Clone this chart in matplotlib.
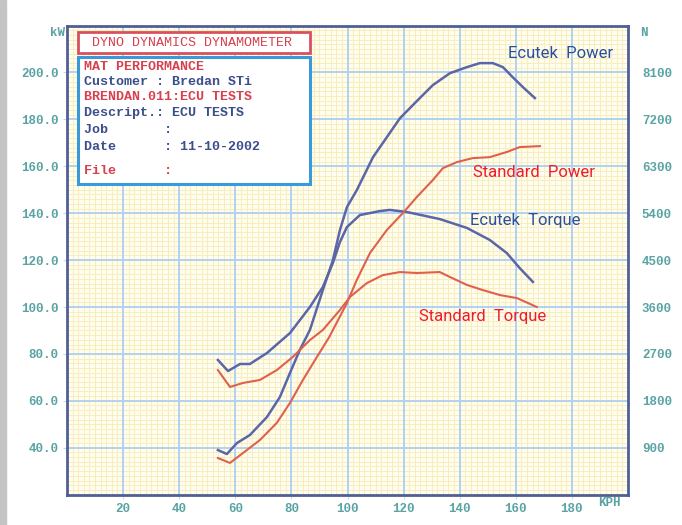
import numpy as np
import matplotlib.pyplot as plt
from matplotlib.patches import Rectangle

ecu_pow_x = [53.8, 57.0, 60.6, 65.2, 71.3, 75.9, 79.5, 83.0, 86.6, 91.2, 94.8, 97.3,
             99.8, 103.3, 109.1, 118.7, 124.7, 130.4, 136.5, 142.6, 147.2, 151.8,
             155.4, 158.9, 162.5, 166.8]
ecu_pow_y = [39.0, 37.3, 42.0, 45.4, 53.1, 61.6, 71.9, 81.7, 90.2, 107.2, 120.0, 132.8,
             142.6, 149.8, 163.9, 180.5, 187.8, 194.6, 199.7, 202.3, 204.0, 204.0,
             202.3, 198.0, 193.8, 189.1]

ecu_trq_x = [53.8, 57.4, 61.7, 65.2, 71.3, 79.5, 86.6, 91.2, 94.8, 97.3, 99.8, 104.4,
             111.5, 115.1, 121.2, 132.9, 142.6, 150.7, 156.8, 161.4, 166.1]
ecu_trq_y = [77.4, 72.7, 75.7, 75.7, 80.4, 88.9, 100.0, 108.5, 118.8, 127.7, 134.1, 139.2,
             140.9, 141.4, 140.5, 137.5, 133.7, 128.6, 123.0, 116.6, 110.7]

std_pow_x = [53.8, 58.1, 62.7, 68.8, 74.8, 79.5, 84.1, 89.1, 93.5, 99.8, 103.3, 108.0,
             114.0, 119.7, 124.7, 130.4, 134.0, 139.0, 144.7, 150.7, 156.8, 161.4, 168.6]
std_pow_y = [35.6, 33.5, 37.7, 43.3, 50.6, 59.1, 68.9, 78.7, 87.2, 101.7, 111.5, 123.0,
             132.8, 140.0, 146.9, 154.1, 159.2, 161.8, 163.5, 163.9, 166.1, 168.2, 168.6]

std_trq_x = [53.8, 58.1, 62.7, 68.8, 74.8, 80.5, 86.6, 91.2, 97.3, 100.9, 106.9, 112.6,
             118.7, 124.7, 132.9, 136.5, 142.6, 148.3, 154.3, 160.4, 167.5]
std_trq_y = [73.1, 65.9, 67.6, 68.9, 73.1, 78.7, 85.9, 90.2, 98.7, 104.3, 110.2, 113.6,
             114.9, 114.5, 114.9, 112.8, 109.4, 107.2, 105.1, 103.8, 100.0]

x_ticks = [20, 40, 60, 80, 100, 120, 140, 160, 180]
kw_ticks = [40, 60, 80, 100, 120, 140, 160, 180, 200]
n_ticks = [900, 1800, 2700, 3600, 4500, 5400, 6300, 7200, 8100]

info_lines = [
    ("MAT PERFORMANCE", "red"),
    ("Customer : Bredan STi", "blue"),
    ("BRENDAN.011:ECU TESTS", "red"),
    ("Descript.: ECU TESTS", "blue"),
    ("Job       :", "blue"),
    ("Date      : 11-10-2002", "blue"),
]

blue_line = "#5a66a8"
red_line = "#e0604a"
tick_col = "#5aa3a3"
txt_red = "#d8404e"
txt_blue = "#3c4e8c"
mono = "Liberation Mono"
narrow = ["Roboto", "DejaVu Sans"]

fig = plt.figure(figsize=(6.82, 5.25), dpi=100)
fig.patch.set_facecolor("white")
# faixa cinzenta da digitalização à esquerda
fig.patches.append(Rectangle((0, 0), 6 / 682, 1, transform=fig.transFigure,
                             color="#c4c4c4", zorder=0))

ax = fig.add_axes([67 / 682, 1 - 494.6 / 525, 561 / 682, 469 / 525])
ax.set_xlim(0, 200)
ax.set_ylim(20, 220)
ax.set_facecolor("#fffdf0")

# grelha: menor amarela, maior azul
for v in np.arange(2, 200, 2):
    ax.axvline(v, color="#f8eebc", lw=0.7, zorder=0)
for v in np.arange(22, 220, 2):
    ax.axhline(v, color="#f8eebc", lw=0.7, zorder=0)
for v in x_ticks:
    ax.axvline(v, color="#b4d2ee", lw=1.4, zorder=1)
for v in kw_ticks:
    ax.axhline(v, color="#b4d2ee", lw=1.4, zorder=1)

ax.plot(ecu_pow_x, ecu_pow_y, color=blue_line, lw=1.8, zorder=3)
ax.plot(ecu_trq_x, ecu_trq_y, color=blue_line, lw=1.8, zorder=3)
ax.plot(std_pow_x, std_pow_y, color=red_line, lw=1.5, zorder=3)
ax.plot(std_trq_x, std_trq_y, color=red_line, lw=1.5, zorder=3)

for s in ax.spines.values():
    s.set_color("#4f5f96")
    s.set_linewidth(2)

ax.set_xticks(x_ticks)
ax.set_xticklabels([str(v) for v in x_ticks], family=mono, fontsize=9,
                   color=tick_col, fontweight="bold")
ax.set_yticks(kw_ticks)
ax.set_yticklabels([f"{v:.1f}" for v in kw_ticks], family=mono, fontsize=9,
                   color=tick_col, fontweight="bold")
ax.tick_params(length=3, color="#c8d8e8", pad=3)

ax2 = ax.twinx()
ax2.set_ylim(0, 9000)
ax2.set_yticks(n_ticks)
ax2.set_yticklabels([str(v) for v in n_ticks], family=mono, fontsize=9,
                    color=tick_col, fontweight="bold")
ax2.tick_params(length=0, pad=10)
for s in ax2.spines.values():
    s.set_visible(False)

fig.text(58 / 682, 1 - 33 / 525, "kW", family=mono, fontsize=9, color=tick_col,
         fontweight="bold", ha="center", va="center")
fig.text(644 / 682, 1 - 33 / 525, "N", family=mono, fontsize=9, color=tick_col,
         fontweight="bold", ha="center", va="center")
fig.text(609 / 682, 1 - 503 / 525, "KPH", family=mono, fontsize=9, color=tick_col,
         fontweight="bold", ha="center", va="center")

# caixa de informação
fig.patches.append(Rectangle((78 / 682, 1 - 53 / 525), 232 / 682, 21 / 525,
                             transform=fig.transFigure, facecolor="white",
                             edgecolor="#d85060", lw=2, zorder=5))
fig.text(192 / 682, 1 - 43 / 525, "DYNO DYNAMICS DYNAMOMETER", family=mono,
         fontsize=9.6, color=txt_red, ha="center", va="center", zorder=6)
fig.patches.append(Rectangle((78 / 682, 1 - 184 / 525), 232 / 682, 127 / 525,
                             transform=fig.transFigure, facecolor="white",
                             edgecolor="#3a9ad8", lw=2.2, zorder=5))
ys = [67, 82, 97, 113, 130, 147]
for (t, c), y in zip(info_lines, ys):
    fig.text(84 / 682, 1 - y / 525, t, family=mono, fontsize=9.6,
             color=txt_red if c == "red" else txt_blue, fontweight="bold",
             ha="left", va="center", zorder=6)
fig.text(84 / 682, 1 - 171 / 525, "File      :", family=mono, fontsize=9.6,
         color=txt_red, fontweight="bold", ha="left", va="center", zorder=6)

# rótulos das curvas
fig.text(508 / 682, 1 - 53 / 525, "Ecutek  Power", family=narrow, fontsize=12,
         color="#2a4fa0", ha="left", va="center", zorder=6)
fig.text(473 / 682, 1 - 172 / 525, "Standard  Power", family=narrow, fontsize=12,
         color="#ee1c2e", ha="left", va="center", zorder=6)
fig.text(470 / 682, 1 - 221 / 525, "Ecutek  Torque", family=narrow, fontsize=12,
         color="#2a4fa0", ha="left", va="center", zorder=6)
fig.text(419 / 682, 1 - 317 / 525, "Standard  Torque", family=narrow, fontsize=12,
         color="#ee1c2e", ha="left", va="center", zorder=6)

fig.savefig("out.png", dpi=100)
